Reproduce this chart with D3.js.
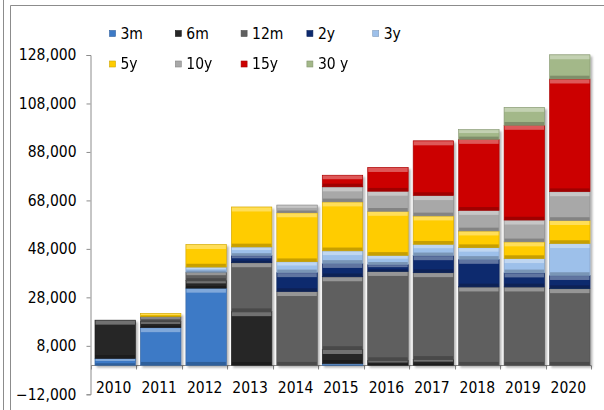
<!DOCTYPE html>
<html lang="en">
<head>
<meta charset="utf-8">
<title>Issuance by maturity</title>
<script src="https://cdn.jsdelivr.net/npm/d3@7"></script>
<style>
  body { margin: 0; background: #fff; }
  svg text { font-family: "DejaVu Sans Condensed", "Liberation Sans", sans-serif; fill: #000; }
</style>
</head>
<body>
<script>
// chart data
var years = ["2010", "2011", "2012", "2013", "2014", "2015", "2016", "2017", "2018", "2019", "2020"];
var seriesNames = ["3m", "6m", "12m", "2y", "3y", "5y", "10y", "15y", "30 y"];
var s3m  = [2800, 15500, 31800, 0, 0, 700, 0, 0, 0, 0, 0];
var s6m  = [15800, 2500, 3100, 22100, 0, 5800, 1900, 2400, 0, 0, 0];
var s12m = [0, 2000, 3500, 20200, 30400, 30000, 36800, 35800, 32300, 32300, 31600];
var s2y  = [0, 0, 0, 2900, 7800, 5500, 2800, 7000, 11400, 5800, 5400];
var s3y  = [0, 0, 2100, 3600, 4500, 5200, 3800, 4700, 4800, 5900, 13200];
var s5y  = [0, 1400, 9300, 16500, 20200, 20200, 18200, 11700, 6900, 6900, 9500];
var s10y = [0, 0, 0, 0, 3200, 6200, 8300, 8400, 8500, 9000, 11900];
var s15y = [0, 0, 0, 0, 0, 4800, 9800, 22600, 29300, 39100, 46500];
var s30y = [0, 0, 0, 0, 0, 0, 0, 0, 4000, 7400, 10000];
var yTicks = [-12000, 8000, 28000, 48000, 68000, 88000, 108000, 128000];

var seriesValues = [s3m, s6m, s12m, s2y, s3y, s5y, s10y, s15y, s30y];
var colors = ["#3d7ac6", "#262626", "#5f5f5f", "#0d2a6e", "#9dc0ea", "#ffcc00", "#a8a8a8", "#cc0000", "#a3b889"];

var w = 604, h = 410;

var svg = d3.select("body").append("svg")
  .attr("width", w)
  .attr("height", h);

// drop shadow for the bars
var defs = svg.append("defs");
defs.append("filter")
  .attr("id", "shadow")
  .attr("x", "-5%").attr("y", "-5%")
  .attr("width", "115%").attr("height", "115%")
  .append("feDropShadow")
  .attr("dx", 2).attr("dy", 2)
  .attr("stdDeviation", 1)
  .attr("flood-color", "#000")
  .attr("flood-opacity", 0.3);

// outer frame lines
svg.append("line").attr("x1", 3.5).attr("x2", 3.5).attr("y1", 0).attr("y2", h)
  .attr("stroke", "#8c8c8c");
svg.append("path").attr("d", "M10.5," + h + "V5.5H" + w)
  .attr("fill", "none").attr("stroke", "#8c8c8c");

// table for d3.stack
var table = years.map(function(y, i) {
  var row = { year: y };
  seriesNames.forEach(function(s, j) { row[s] = seriesValues[j][i]; });
  return row;
});
var stacked = d3.stack().keys(seriesNames)(table);

var x = d3.scaleBand()
  .domain(years)
  .range([91, 591])
  .paddingInner(0.109)
  .paddingOuter(0.0545);

var y = d3.scaleLinear()
  .domain([-12000, 128000])
  .range([394.3, 55]);

// y axis
var yAxis = svg.append("g")
  .attr("transform", "translate(90.5,0)")
  .call(d3.axisLeft(y).tickValues(yTicks).tickFormat(d3.format(",")).tickSize(4).tickPadding(10));
yAxis.select(".domain").attr("stroke", "#8c8c8c");
yAxis.selectAll(".tick line").attr("stroke", "#8c8c8c");
yAxis.selectAll("text").style("font-size", "15.5px").attr("fill", "#000");

// x axis at zero
var step = x.step();
var xAxisG = svg.append("g");
xAxisG.append("line")
  .attr("x1", 91).attr("x2", 591)
  .attr("y1", Math.round(y(0)) + 0.5).attr("y2", Math.round(y(0)) + 0.5)
  .attr("stroke", "#8c8c8c");
xAxisG.selectAll("line.tk")
  .data(d3.range(years.length + 1))
  .enter().append("line")
  .attr("class", "tk")
  .attr("x1", function(i) { return Math.round(91 + i * step) + 0.5; })
  .attr("x2", function(i) { return Math.round(91 + i * step) + 0.5; })
  .attr("y1", Math.round(y(0)) + 0.5)
  .attr("y2", Math.round(y(0)) + 4.5)
  .attr("stroke", "#8c8c8c");

// bars, all in one group so the shadow only falls outside the stacks
var barOffset = 1.5;
var bars = svg.append("g").attr("filter", "url(#shadow)");
var layers = bars.selectAll("g.layer")
  .data(stacked)
  .enter().append("g")
  .attr("class", "layer");

layers.each(function(layer, j) {
  var g = d3.select(this);
  var segs = layer.filter(function(d) { return d[1] - d[0] > 0; });
  var col = d3.color(colors[j]);

  g.selectAll("rect.body")
    .data(segs)
    .enter().append("rect")
    .attr("class", "body")
    .attr("x", function(d) { return x(d.data.year) + barOffset; })
    .attr("y", function(d) { return y(d[1]); })
    .attr("width", x.bandwidth())
    .attr("height", function(d) { return y(d[0]) - y(d[1]); })
    .attr("fill", colors[j])
    .attr("stroke", col.darker(0.6))
    .attr("stroke-width", 0.6);

  // bevel highlight on top of each segment
  g.selectAll("rect.hi")
    .data(segs)
    .enter().append("rect")
    .attr("class", "hi")
    .attr("x", function(d) { return x(d.data.year) + barOffset + 0.5; })
    .attr("y", function(d) { return y(d[1]) + 0.5; })
    .attr("width", x.bandwidth() - 1)
    .attr("height", function(d) { return Math.min(4, (y(d[0]) - y(d[1])) * 0.3); })
    .attr("fill", "#fff")
    .attr("opacity", 0.35);

  // bevel shade at bottom of each segment
  g.selectAll("rect.lo")
    .data(segs)
    .enter().append("rect")
    .attr("class", "lo")
    .attr("x", function(d) { return x(d.data.year) + barOffset + 0.5; })
    .attr("y", function(d) {
      var hh = Math.min(3, (y(d[0]) - y(d[1])) * 0.25);
      return y(d[0]) - hh - 0.3;
    })
    .attr("width", x.bandwidth() - 1)
    .attr("height", function(d) { return Math.min(3, (y(d[0]) - y(d[1])) * 0.25); })
    .attr("fill", "#000")
    .attr("opacity", 0.22);
});

// year labels
svg.selectAll("text.year")
  .data(years)
  .enter().append("text")
  .attr("class", "year")
  .attr("x", function(d) { return x(d) + x.bandwidth() / 2; })
  .attr("y", 392.5)
  .attr("text-anchor", "middle")
  .style("font-size", "15.5px")
  .text(function(d) { return d; });

// legend
var legendX = [109.5, 175.3, 241.1, 306.9, 372.7];
var legendY = [33.5, 64];
var legend = svg.selectAll("g.legend")
  .data(seriesNames)
  .enter().append("g")
  .attr("class", "legend")
  .attr("transform", function(d, i) {
    return "translate(" + legendX[i % 5] + "," + legendY[Math.floor(i / 5)] + ")";
  });
legend.append("rect")
  .attr("x", 0).attr("y", -3)
  .attr("width", 6).attr("height", 6)
  .attr("fill", function(d, i) { return colors[i]; })
  .attr("stroke", function(d, i) { return d3.color(colors[i]).darker(0.6); })
  .attr("stroke-width", 0.6);
legend.append("text")
  .attr("x", 11)
  .attr("y", 0)
  .attr("dy", "0.35em")
  .style("font-size", "15.5px")
  .text(function(d) { return d; });
</script>
</body>
</html>
